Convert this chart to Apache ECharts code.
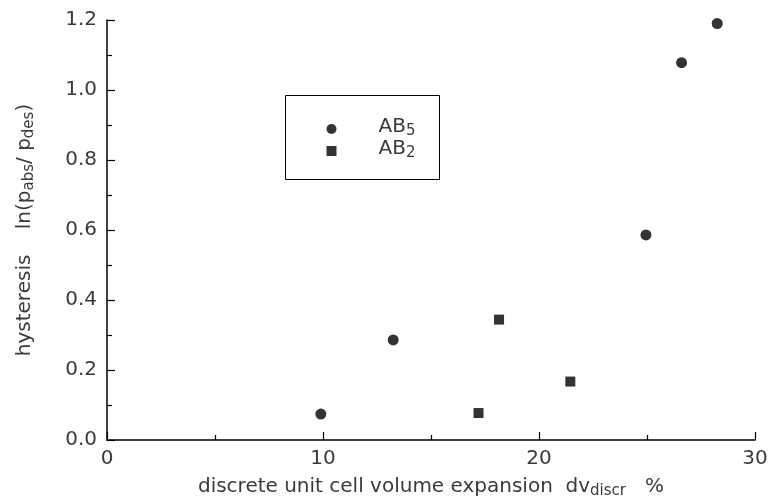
<!DOCTYPE html>
<html>
<head>
<meta charset="utf-8">
<script src="https://cdn.jsdelivr.net/npm/echarts@6/dist/echarts.min.js"></script>
<style>
  html, body { margin: 0; padding: 0; background: #fff; }
  #chart { width: 771px; height: 504px; }
</style>
</head>
<body>
<div id="chart"></div>
<script>
// AB5 alloys (circles)
const ab5X = [9.9, 13.25, 24.95, 26.6, 28.25]
const ab5Y = [0.074, 0.286, 0.586, 1.078, 1.19]
// AB2 alloys (squares)
const ab2X = [17.2, 18.15, 21.45]
const ab2Y = [0.077, 0.344, 0.167]

const seriesNames = ['AB5', 'AB2']

const txtColor = '#3a3a3a'
const font = 'DejaVu Sans'

// main text + subscript styles for rich labels
const rich = {
  g: { width: 37 },
  n: { fontSize: 20, fontFamily: font, color: txtColor, lineHeight: 24, verticalAlign: 'top' },
  s: { fontSize: 15, fontFamily: font, color: txtColor, lineHeight: 15, verticalAlign: 'top', padding: [7, 0, 0, 0] }
}

function pairs(xs, ys) {
  return xs.map((x, i) => [x, ys[i]])
}

let myChart = echarts.init(document.getElementById('chart'))

let option = {
  animation: false,
  backgroundColor: '#fff',
  grid: { left: 107, right: 16, top: 20, bottom: 64 },
  xAxis: {
    type: 'value',
    min: 0,
    max: 30,
    interval: 10,
    name: '{n|discrete unit cell volume expansion  dv}{s|discr}{n|   %}',
    nameLocation: 'middle',
    nameGap: 37,
    nameTextStyle: { rich: rich },
    axisLine: { show: true, lineStyle: { color: '#000', width: 1.5 } },
    axisTick: { show: true, inside: true, length: 8, lineStyle: { color: '#000', width: 1.2 } },
    minorTick: { show: true, splitNumber: 2, length: 5, lineStyle: { color: '#000', width: 1.2 } },
    axisLabel: { margin: 9, fontSize: 20, fontFamily: font, color: txtColor },
    splitLine: { show: false }
  },
  yAxis: {
    type: 'value',
    min: 0,
    max: 1.2,
    interval: 0.2,
    name: '{n|hysteresis    ln(p}{s|abs}{n|/ p}{s|des}{n|)}',
    nameLocation: 'middle',
    nameRotate: 90,
    nameGap: 68,
    nameTextStyle: { rich: rich },
    axisLine: { show: true, lineStyle: { color: '#000', width: 1.5 } },
    axisTick: { show: true, inside: true, length: 8, lineStyle: { color: '#000', width: 1.2 } },
    minorTick: { show: true, splitNumber: 2, length: 5, lineStyle: { color: '#000', width: 1.2 } },
    axisLabel: {
      margin: 10,
      fontSize: 20,
      fontFamily: font,
      color: txtColor,
      formatter: v => v.toFixed(1)
    },
    splitLine: { show: false }
  },
  legend: {
    orient: 'vertical',
    left: 326.5,
    top: 117,
    itemWidth: 10,
    itemHeight: 10,
    itemGap: 0,
    padding: 0,
    data: seriesNames,
    formatter: name => '{g|}{n|' + name.slice(0, 2) + '}{s|' + name.slice(2) + '}',
    textStyle: { rich: rich }
  },
  graphic: [{
    type: 'rect',
    left: 283,
    top: 93,
    shape: { width: 154, height: 84 },
    style: { fill: 'none', stroke: '#000', lineWidth: 1 },
    silent: true
  }],
  series: [
    {
      name: seriesNames[0],
      type: 'scatter',
      symbol: 'circle',
      symbolSize: 11,
      itemStyle: { color: '#000' },
      data: pairs(ab5X, ab5Y)
    },
    {
      name: seriesNames[1],
      type: 'scatter',
      symbol: 'rect',
      symbolSize: 10,
      itemStyle: { color: '#000' },
      data: pairs(ab2X, ab2Y)
    }
  ]
}

myChart.setOption(option)
</script>
</body>
</html>
